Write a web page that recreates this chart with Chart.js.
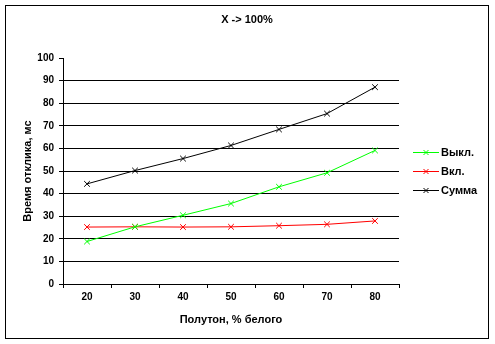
<!DOCTYPE html>
<html>
<head>
<meta charset="utf-8">
<script src="https://cdn.jsdelivr.net/npm/chart.js@4"></script>
<style>
  html, body { margin: 0; padding: 0; background: #fff; }
  #wrap { width: 495px; height: 344px; }
</style>
</head>
<body>
<div id="wrap"><canvas id="responseChart" width="495" height="344"></canvas></div>
<script>
// Halftone, % white
const halftones = ["20", "30", "40", "50", "60", "70", "80"];
// Response time, ms
const offValues = [18.8, 25.3, 30.4, 35.6, 43.0, 49.2, 59.1];
const onValues = [25.2, 25.3, 25.2, 25.3, 25.8, 26.4, 27.9];
const sumValues = [44.3, 50.2, 55.5, 61.3, 68.4, 75.4, 87.1];
const seriesNames = ["Выкл.", "Вкл.", "Сумма"];
const seriesColors = ["#00ff00", "#ff0000", "#000000"];
const chartTitle = "X -> 100%";

const FONT = "'Liberation Sans', Arial, sans-serif";

function makeSeries(i, values) {
  return {
    label: seriesNames[i],
    data: values,
    borderColor: seriesColors[i],
    backgroundColor: seriesColors[i],
    borderWidth: 1,
    tension: 0,
    pointStyle: 'crossRot',
    pointRadius: 4,
    pointBorderWidth: 1,
    pointHoverRadius: 4
  };
}

// frame, title centred on the whole chart, legend on the right
const extras = {
  id: 'extras',
  beforeDraw(chart) {
    const c = chart.ctx;
    c.save();
    c.fillStyle = '#fff';
    c.fillRect(0, 0, chart.width, chart.height);
    c.restore();
  },
  afterDraw(chart) {
    const c = chart.ctx;
    c.save();
    c.strokeStyle = '#000';
    c.lineWidth = 1;
    c.strokeRect(5.5, 5.5, 483, 333);

    c.fillStyle = '#000';
    c.font = "bold 11px " + FONT;
    c.textAlign = 'center';
    c.textBaseline = 'middle';
    c.fillText(chartTitle, 247, 20);

    c.textAlign = 'left';
    chart.data.datasets.forEach((ds, i) => {
      const y = Math.round(152 + i * 19) + 0.5;
      c.strokeStyle = ds.borderColor;
      c.beginPath();
      c.moveTo(413, y);
      c.lineTo(439, y);
      c.moveTo(423.5, y - 2.5);
      c.lineTo(428.5, y + 2.5);
      c.moveTo(423.5, y + 2.5);
      c.lineTo(428.5, y - 2.5);
      c.stroke();
      c.fillStyle = '#000';
      c.fillText(ds.label, 441, y);
    });
    c.restore();
  }
};

const ctx = document.getElementById('responseChart').getContext('2d');
const responseChart = new Chart(ctx, {
  type: 'line',
  data: {
    labels: halftones,
    datasets: [makeSeries(0, offValues), makeSeries(1, onValues), makeSeries(2, sumValues)]
  },
  plugins: [extras],
  options: {
    responsive: false,
    animation: false,
    events: [],
    layout: { padding: { left: 0, top: 58, right: 96, bottom: 0 } },
    plugins: {
      legend: { display: false },
      tooltip: { enabled: false },
      title: { display: false }
    },
    scales: {
      x: {
        offset: true,
        grid: {
          offset: true,
          drawOnChartArea: false,
          color: '#000',
          tickLength: 4
        },
        border: { color: '#000', width: 1 },
        ticks: {
          color: '#000',
          padding: 3,
          maxRotation: 0,
          font: { family: FONT, size: 10, weight: 'bold' }
        },
        title: {
          display: true,
          text: 'Полутон, % белого',
          color: '#000',
          font: { family: FONT, size: 11, weight: 'bold', lineHeight: 1.2 },
          padding: { top: 0, bottom: 17.4 }
        },
        afterFit(scale) { scale.height = 60; }
      },
      y: {
        min: 0,
        max: 100,
        ticks: {
          stepSize: 10,
          color: '#000',
          padding: 5,
          font: { family: FONT, size: 10, weight: 'bold' }
        },
        grid: {
          color: c => (c.tick && c.tick.value === 100) ? 'rgba(0,0,0,0)' : '#000',
          tickColor: '#000',
          tickLength: 4
        },
        border: { color: '#000', width: 1 },
        title: {
          display: true,
          text: 'Время отклика, мс',
          color: '#000',
          font: { family: FONT, size: 11, weight: 'bold', lineHeight: 1.2 },
          padding: { top: 21.4, bottom: 0 }
        },
        afterFit(scale) { scale.width = 63; }
      }
    }
  }
});
</script>
</body>
</html>
